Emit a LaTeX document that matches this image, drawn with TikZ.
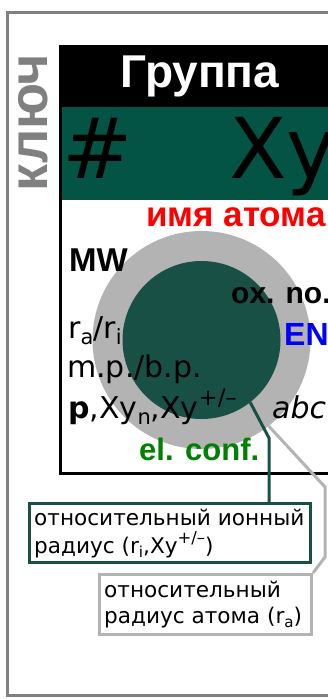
\documentclass[tikz,border=0pt]{standalone}
\usepackage{fontspec}
\setmainfont{DejaVu Sans}
\newfontfamily\lib{Liberation Sans}
\definecolor{keygray}{RGB}{128,128,128}
\definecolor{atomgray}{RGB}{179,179,179}
\definecolor{band}{RGB}{4,84,70}
\definecolor{iongreen}{RGB}{24,80,69}
\definecolor{elgreen}{RGB}{0,128,0}
\newcommand\fs[1]{\fontsize{#1}{#1}\selectfont}
\newcommand\dn[1]{\raisebox{-0.22em}{\scalebox{0.7}{#1}}}
\newcommand\upsc[1]{\raisebox{0.42em}{\scalebox{0.76}{#1}}}
\tikzset{
  lbl/.style={inner sep=0, anchor=base west},
  boldlbl/.style={lbl, font=\lib\bfseries\fs{#1}},
  frameline/.style={draw=keygray, line width=3},
  ionline/.style={draw=iongreen, line width=3},
  atomline/.style={draw=atomgray, line width=3},
}
\begin{document}
\begin{tikzpicture}[x=1pt,y=-1pt]
\useasboundingbox (0,0) rectangle (328,699);
\clip (0,0) rectangle (328,699);
\fill[white] (0,0) rectangle (328,699);
\draw[frameline] (7.5,12) rectangle (420,695.5);
\node[rotate=90, anchor=base, inner sep=0, text=keygray, font=\lib\bfseries\fs{54}] (key) at (47,122.5) {ключ};
% card
\draw[line width=3] (60,46) rectangle (420,473);
\fill[black] (58.5,44.5) rectangle (420,107);
\fill[band] (61.5,107) rectangle (420,200);
\node[boldlbl=46, anchor=base, text=white] (group) at (200,87) {Группа};
\node[lbl, font=\fs{84}] (num) at (62,178) {\#};
\node[lbl, font=\fs{84}] (sym) at (229,178) {Xy};
\node[boldlbl=35, text=red] (name) at (146,226) {имя атома};
% circles
\node[circle, fill=atomgray, minimum size=218, inner sep=0] (atom) at (201.5,340) {};
\node[circle, fill=iongreen, minimum size=158, inner sep=0] (ion) at (201.5,340) {};
% boxes
\node[draw=iongreen, line width=3, fill=white, minimum width=281, minimum height=59, inner sep=0] (ionbox) at (170,533) {};
\node[draw=atomgray, line width=3, fill=white, minimum width=212, minimum height=60, inner sep=0] (atombox) at (205.5,604.5) {};
% connectors
\coordinate (k1) at (269,438);
\draw[ionline] (ion.-52) -- (k1) -- (k1 |- ionbox.north);
\coordinate (g1) at (325,487);
\coordinate (g2) at (325,557);
\draw[atomline] (atom.-52) -- (g1) -- (g2) -- (atombox.north east);
% labels in card
\node[boldlbl=33] (mw) at (69,271) {MW};
\node[boldlbl=30] (ox) at (231,303) {ox. no.};
\node[boldlbl=32, text=blue] (en) at (284,345) {EN};
\node[lbl, font=\fs{30}] (radii) at (68,338) {r\dn{a}/r\dn{i}};
\node[lbl, font=\fs{30}] (mp) at (67,377) {m.p./b.p.};
\node[lbl, font=\fs{30}] (ions) at (68,418) {\textbf{p},Xy\dn{n},Xy\upsc{+/–}};
\node[lbl, font=\fs{30}\itshape] (abc) at (272,418) {abc};
\node[boldlbl=31, text=elgreen] (elconf) at (139,460) {el. conf.};
% box texts
\node[lbl, font=\fs{21.6}] (iont1) at (34,525) {относительный ионный};
\node[lbl, font=\fs{21.6}] (iont2) at (34,553) {радиус (r\dn{i},Xy\upsc{+/–})};
\node[lbl, font=\fs{21.6}] (atomt1) at (104,597) {относительный};
\node[lbl, font=\fs{21.6}] (atomt2) at (104,623) {радиус атома (r\dn{a})};
\end{tikzpicture}
\end{document}
